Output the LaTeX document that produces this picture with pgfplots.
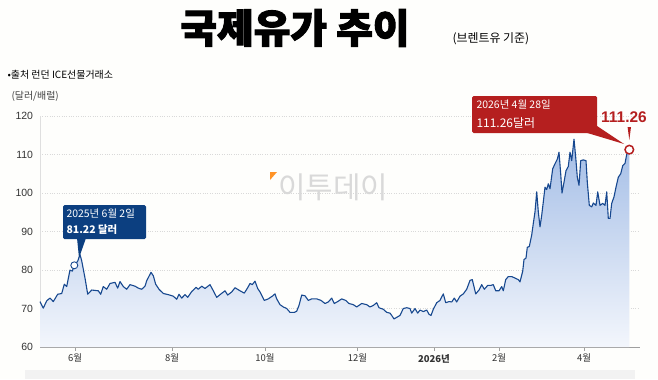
\documentclass[border=0pt]{standalone}
\usepackage{fontspec}
\setmainfont{Noto Sans CJK KR}
\newfontfamily\titlefont{Noto Sans CJK KR}[BoldFeatures={FakeBold=2.5}]
\newfontfamily\lat{Liberation Sans}
\usepackage{pgfplots}
\pgfplotsset{compat=1.18}
\usepackage{pgfplotstable}
\definecolor{linecol}{HTML}{17488F}
\definecolor{bluebox}{HTML}{0C3F80}
\definecolor{redbox}{HTML}{B51F1F}
\definecolor{filltop}{HTML}{A3BDE6}
\definecolor{fillbot}{HTML}{F3F6FC}
\definecolor{bgcol}{HTML}{FEFEFC}
\definecolor{bandcol}{HTML}{F2F2F2}
\pgfplotstableread{
x y
40 71.8
43.3 70.1
46.7 72.0
50 72.7
53.3 71.8
57.7 73.7
61.7 73.9
64.3 76.3
66.7 75.7
70 80.0
72.3 79.7
74.3 81.22
77.7 82.3
80 84.0
81.7 82.4
85 77.9
87.7 73.7
91.7 74.8
98.3 74.6
100.7 73.7
103.3 75.7
106.7 75.0
110 76.5
115 76.8
117.7 75.3
120 77.0
123.3 75.7
126.7 75.0
130 76.2
135 75.8
138.3 75.3
141.7 75.0
145 75.8
146.7 77.2
151 79.4
153.3 78.5
155.7 76.3
159 75.0
163.3 73.9
168.3 73.6
173.3 73.2
176.7 72.4
179 73.7
181.7 72.7
185 73.6
187.7 72.9
191.7 74.4
196 75.5
198.3 75.0
201.7 75.8
205 75.2
210 76.2
213.3 74.6
216.7 72.9
221 73.8
225 74.6
227.7 73.5
231.7 74.3
235 75.4
240 74.6
244.3 74.0
247.7 75.4
250 76.5
252.3 76.2
255 77.1
257.7 75.2
260 74.3
264.3 72.1
268.3 72.5
272.3 73.2
275 73.8
276.7 72.5
280 71.0
283.3 70.4
286.7 70.0
290 69.0
294.3 69.0
296.7 69.3
299 70.8
301.7 73.5
305 73.3
308.3 72.1
311.7 72.5
316.7 72.5
321 72.1
325 71.3
328.3 71.7
331.7 72.7
334.3 71.3
337.7 71.8
341.7 72.5
345.7 72.1
349 71.3
353.3 71.0
356.7 70.4
361.7 71.3
366.7 71.0
370 70.4
373.3 70.8
376.7 71.5
379 70.2
383.3 69.8
386.7 69.0
390 68.8
391.7 68.2
394 67.3
396.7 67.7
400 68.2
403.3 70.0
406.7 70.2
410 70.0
411.7 68.8
415 70.0
417.7 68.8
420 69.6
423.3 69.2
426.7 69.6
429 68.5
431 68.2
433.3 69.8
436.7 71.5
440 72.1
443.3 73.8
445.7 71.5
449 71.8
451.7 71.7
454.3 72.7
456.7 71.7
460 73.2
463.3 73.8
466.7 75.0
470 77.3
472.3 77.5
475.7 73.8
479 74.8
481.7 76.2
484.3 75.0
487.7 76.0
491 76.0
493.3 76.2
495.7 74.6
499 74.6
501.7 75.7
503.3 74.6
505.7 77.5
508.3 78.3
511.7 78.3
515 77.9
518.3 77.5
520 76.9
522.7 79.7
524 82.7
526 83.1
527.3 85.9
529.3 86.1
531.7 89.1
533.3 92.1
535 95.1
536.7 100.3
538.3 95.1
540 91.2
541.7 94.2
543.3 97.7
545 101.5
546.7 100.9
548.3 102.4
550 101.1
552.7 106.3
555 107.6
557.3 108.8
559 110.6
560.7 105.0
562 100.0
564 102.8
566 105.8
568.3 106.9
570 110.6
571.7 108.4
574 114.0
575.7 109.3
577.3 104.1
579 102.0
580.7 108.4
583.3 108.6
586 108.4
587.3 102.8
589.3 96.8
591.7 96.4
593.3 97.4
596 96.8
597.7 100.3
600 96.8
602.7 97.3
605 96.8
606.7 100.3
608.3 93.4
610 93.4
611.7 97.3
614 99.0
616 101.5
618.3 104.1
620.7 105.0
622.7 107.1
625 107.7
626.7 110.0
629.3 111.26
}\oil
\begin{document}
\begin{tikzpicture}[x=1bp,y=1bp]
\fill[bgcol] (0,0) rectangle (658,379);
\path[use as bounding box] (0,0) rectangle (658,379);
\fill[bandcol] (25,0) rectangle (635,9);
% watermark
\node[font=\fontsize{30}{32}\selectfont, text=gray!30] at (333,192) {이투데이};
\fill[orange!85] (270,207) -- (277,207) -- (270,199) -- cycle;
\begin{axis}[
  scale only axis, width=600bp, height=231bp,
  at={(40bp,32bp)}, anchor=south west,
  xmin=40, xmax=640, ymin=60, ymax=120,
  axis lines=left,
  x axis line style={draw=gray!75, -},
  y axis line style={draw=gray!25, -},
  xtick={75,172,265,357.5,434,499,584},
  xticklabels={6월,8월,10월,12월,\textbf{2026년},2월,4월},
  ytick={60,70,...,120},
  ymajorgrids, grid style={dotted, gray!30},
  tick align=outside, major tick length=3.5bp,
  xtick style={draw=gray!75},
  ytick style={draw=none},
  /pgf/number format/assume math mode=true,
  yticklabel style={font=\lat\fontsize{10.5}{12}\selectfont, text=black!80},
  xticklabel style={font=\fontsize{9.5}{11}\selectfont, text=black!80},
  clip=false,
]
\addplot[draw=none, top color=filltop, bottom color=fillbot] table {\oil} \closedcycle;
\addplot[linecol, line width=1.1bp, line join=round] table {\oil};
\addplot[only marks, mark=*, mark size=3.5bp, mark options={fill=white, draw=linecol, line width=0.9bp}] coordinates {(74.3,81.22)};
\addplot[only marks, mark=*, mark size=4.3bp, mark options={fill=white, draw=redbox, line width=1.5bp}] coordinates {(629.3,111.26)};
\end{axis}
% titles
\node[font=\titlefont\bfseries\fontsize{40}{42}\selectfont] at (295,351) {국제유가 추이};
\node[anchor=west, font=\fontsize{12}{14}\selectfont] at (449,340) {(브렌트유 기준)};
\node[anchor=west, font=\fontsize{10}{12}\selectfont] at (4,304) {•출처 런던 ICE선물거래소};
\node[anchor=west, font=\fontsize{10}{12}\selectfont, text=black!75] at (8,283) {(달러/배럴)};
% blue callout
\fill[bluebox] (77,141) -- (86,141) -- (79,121) -- cycle;
\fill[bluebox, rounded corners=1.5bp] (63,140) rectangle (146,174);
\node[anchor=west, text=white, font=\fontsize{10.5}{12}\selectfont] at (63,165) {2025년 6월 2일};
\node[anchor=west, text=white, font=\bfseries\fontsize{10.5}{12}\selectfont] at (63,149) {81.22 달러};
% red callout
\fill[redbox] (584,247) -- (597,253) -- (624,235) -- cycle;
\fill[redbox, rounded corners=1.5bp] (472,246) rectangle (597,283);
\node[anchor=west, text=white, font=\fontsize{10.5}{12}\selectfont] at (473,274) {2026년 4월 28일};
\node[anchor=west, text=white, font=\fontsize{12}{14}\selectfont] at (473,256) {111.26달러};
\node[text=redbox, font=\lat\bfseries\fontsize{15.5}{18}\selectfont] at (624,262) {111.26};
\fill[redbox] (627.6,252) -- (631,252) -- (629.3,239) -- cycle;
\end{tikzpicture}
\end{document}
